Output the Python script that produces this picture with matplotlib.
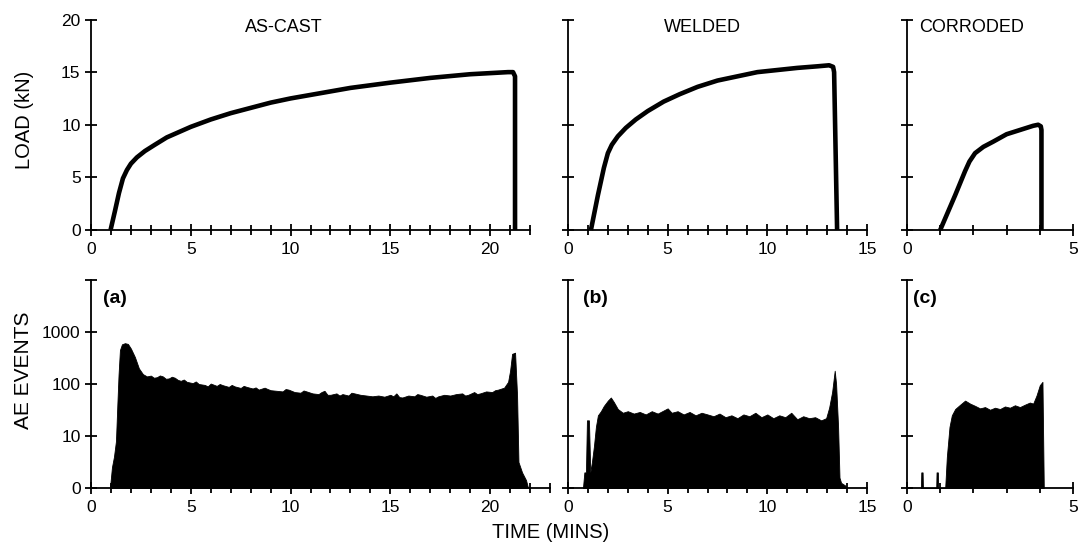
import matplotlib
matplotlib.use('Agg')
import matplotlib.pyplot as plt
from matplotlib.ticker import MultipleLocator, NullLocator, FixedLocator

plt.rcParams['font.family'] = ['Liberation Sans', 'DejaVu Sans']

# load curves (time in mins, load in kN)
cast_t = [0.98, 1.2, 1.4, 1.6, 1.8, 2.0, 2.3, 2.7, 3.2, 3.8, 4.4, 5.0, 6.0, 7.0, 8.0, 9.0,
          10.0, 11.5, 13.0, 15.0, 17.0, 19.0, 20.9, 21.15, 21.25, 21.25]
cast_load = [0.0, 1.8, 3.5, 4.9, 5.7, 6.3, 6.9, 7.5, 8.1, 8.8, 9.3, 9.8, 10.5, 11.1, 11.6, 12.1,
             12.5, 13.0, 13.5, 14.0, 14.45, 14.8, 15.0, 15.0, 14.6, 0.0]

weld_t = [1.15, 1.5, 1.8, 2.0, 2.2, 2.5, 2.9, 3.4, 4.0, 4.8, 5.6, 6.5, 7.5, 8.5, 9.5, 10.5,
          11.5, 12.5, 13.1, 13.3, 13.35, 13.5]
weld_load = [0.0, 3.3, 5.9, 7.3, 8.1, 8.9, 9.7, 10.5, 11.3, 12.2, 12.9, 13.6, 14.2, 14.6, 15.0, 15.2,
             15.4, 15.55, 15.65, 15.5, 15.0, 0.0]

corr_t = [1.0, 1.45, 1.75, 1.88, 2.05, 2.3, 2.6, 3.0, 3.4, 3.8, 3.95, 4.03, 4.05, 4.05]
corr_load = [0.0, 3.3, 5.6, 6.5, 7.3, 7.9, 8.4, 9.1, 9.5, 9.9, 10.0, 9.85, 9.5, 0.0]

# AE events per interval
cast_ae_t = [0.95, 1.05, 1.15, 1.25, 1.32, 1.38, 1.45, 1.55, 1.7, 1.85, 2.0, 2.2, 2.4, 2.6,
             2.8, 3.0, 3.15, 3.3, 3.45, 3.6, 3.75, 3.9, 4.05, 4.2, 4.35, 4.5, 4.65, 4.8, 5.1,
             5.25, 5.4, 5.7, 5.85, 6.0, 6.3, 6.45, 6.6, 6.9, 7.05, 7.2,
             7.5, 7.65, 7.8, 8.1, 8.25, 8.4, 8.7, 8.85, 9.0, 9.3, 9.6, 9.75, 9.9, 10.2, 10.5,
             10.65, 10.8, 11.1, 11.4, 11.55, 11.7, 11.85,
             12.0, 12.3, 12.45, 12.6, 12.9, 13.05, 13.2, 13.5, 13.8, 14.1, 14.4, 14.7, 15.0,
             15.15, 15.3, 15.45, 15.6,
             15.9, 16.2, 16.35, 16.5, 16.8, 17.1, 17.25, 17.4, 17.7, 18.0, 18.3, 18.6, 18.75,
             18.9, 19.2, 19.35, 19.5,
             19.8, 20.1, 20.25, 20.4, 20.7, 20.9, 21.0, 21.1, 21.25, 21.35, 21.42, 21.6, 21.8, 21.9]
cast_ae = [0, 4, 6, 9, 40, 150, 450, 580, 610, 590, 480, 330, 200, 155,
           140, 145, 132, 135, 146, 140, 126, 128, 138, 132, 120, 115, 122, 110, 104,
           112, 100, 96, 90, 102, 92, 100, 95, 88, 96, 90,
           84, 92, 88, 82, 86, 78, 85, 80, 76, 74, 72, 80, 78, 70, 68,
           75, 72, 66, 64, 70, 74, 62,
           62, 66, 60, 64, 60, 68, 66, 62, 60, 58, 60, 57, 62,
           58, 66, 56, 55,
           60, 58, 64, 62, 57, 60, 54, 58, 62, 60, 64, 66, 60,
           62, 70, 64, 66,
           72, 70, 76, 78, 85, 110, 180, 380, 400, 60, 5, 3, 1.5, 0]

weld_ae_t = [0.75, 0.82, 0.9, 0.95, 1.05, 1.12, 1.2, 1.3, 1.4, 1.5, 1.65, 1.8, 2.0, 2.15,
             2.3, 2.5, 2.75, 3.0, 3.3, 3.6, 3.9, 4.2, 4.5, 4.8, 5.0, 5.2, 5.5, 5.8, 6.1,
             6.4, 6.7, 7.0, 7.3, 7.6, 7.9, 8.2, 8.5, 8.8, 9.1, 9.4, 9.7, 10.0, 10.3, 10.6,
             10.9, 11.2, 11.5, 11.8, 12.1, 12.4, 12.7, 12.95, 13.1, 13.25, 13.38, 13.45,
             13.55, 13.62, 13.7, 13.9, 14.0]
weld_ae = [0, 3, 3, 20, 20, 3, 5, 8, 15, 25, 30, 38, 48, 55,
           45, 33, 28, 30, 27, 29, 26, 30, 27, 31, 34, 28, 30, 26, 29,
           25, 28, 26, 24, 27, 23, 25, 22, 26, 24, 28, 23, 26, 22, 25,
           23, 28, 21, 24, 22, 23, 20, 22, 35, 70, 180, 100,
           15, 2, 1, 0.5, 0]

corr_ae_t = [0.42, 0.43, 0.47, 0.48, 0.88, 0.89, 0.93, 0.94, 1.15, 1.2, 1.28, 1.35, 1.45,
             1.6, 1.75, 1.9, 2.05, 2.2, 2.35, 2.5, 2.65, 2.8, 2.95, 3.1, 3.25, 3.4, 3.55,
             3.7, 3.8, 3.9, 4.0, 4.08, 4.12]
corr_ae = [0, 3, 3, 0, 0, 3, 3, 0, 0, 6, 15, 25, 33,
           40, 48, 42, 38, 34, 36, 32, 35, 33, 37, 35, 39, 36, 40,
           44, 42, 60, 95, 110, 0]

titles = ['AS-CAST', 'WELDED', 'CORRODED']
panel_tags = ['(a)', '(b)', '(c)']

W, H = 1082, 548
LW = 1.3


def style_axes(ax, xmax):
    ax.spines['top'].set_visible(False)
    ax.spines['right'].set_visible(False)
    ax.spines['left'].set_linewidth(LW)
    ax.spines['bottom'].set_linewidth(LW)
    ax.set_xlim(0, xmax)
    ax.xaxis.set_major_locator(MultipleLocator(5))
    ax.xaxis.set_minor_locator(MultipleLocator(1))
    ax.tick_params(which='major', direction='inout', length=9, width=LW, labelsize=12.5, pad=3)
    ax.tick_params(which='minor', direction='inout', length=7, width=LW)
    ax.tick_params(axis='x', pad=4)


def main():
    fig = plt.figure(figsize=(W / 100, H / 100), dpi=100)

    # positions in pixels: left, width, xmax
    cols_top = [(91, 439, 22), (568, 299, 15), (907, 166, 5)]
    cols_bot = [(91, 459, 23), (568, 299, 15), (907, 166, 5)]
    load_data = [(cast_t, cast_load), (weld_t, weld_load), (corr_t, corr_load)]
    ae_data = [(cast_ae_t, cast_ae), (weld_ae_t, weld_ae), (corr_ae_t, corr_ae)]
    title_x = [0.44, 0.45, 0.39]
    tag_x = [0.026, 0.05, 0.036]

    for i in range(3):
        left, width, xmax = cols_top[i]
        ax = fig.add_axes([left / W, 1 - 230 / H, width / W, 210.5 / H])
        style_axes(ax, xmax)
        ax.set_ylim(0, 20)
        ax.yaxis.set_major_locator(MultipleLocator(5))
        t, load = load_data[i]
        ax.plot(t, load, color='black', lw=3.3, solid_joinstyle='round', solid_capstyle='butt',
                clip_on=False, zorder=3)
        ax.text(title_x[i], 0.96, titles[i], transform=ax.transAxes, ha='center', va='center',
                fontsize=13)
        ax.set_xticks([0, xmax] if xmax == 5 else list(range(0, xmax + 1, 5)))
        if i > 0:
            ax.set_yticklabels([])

        left, width, xmax = cols_bot[i]
        bx = fig.add_axes([left / W, 1 - 488 / H, width / W, 208 / H])
        style_axes(bx, xmax)
        bx.set_yscale('symlog', base=10, linthresh=10, linscale=0.9)
        bx.set_ylim(0, 10000)
        bx.yaxis.set_major_locator(FixedLocator([0, 10, 100, 1000, 10000]))
        bx.yaxis.set_minor_locator(NullLocator())
        if i == 0:
            bx.set_yticklabels(['0', '10', '100', '1000', ''])
        else:
            bx.set_yticklabels([])
        bx.set_xticks([0, xmax] if xmax == 5 else list(range(0, 16 if xmax == 15 else 21, 5)))
        t, ae = ae_data[i]
        bx.fill_between(t, 0, ae, color='black', lw=0.6, zorder=3)
        bx.text(tag_x[i], 0.913, panel_tags[i], transform=bx.transAxes, ha='left', va='center',
                fontsize=14, fontweight='bold')

    fig.text(24 / W, 1 - 120 / H, 'LOAD (kN)', rotation=90, ha='center', va='center', fontsize=14.5)
    fig.text(24 / W, 1 - 370 / H, 'AE EVENTS', rotation=90, ha='center', va='center', fontsize=15)
    fig.text(551 / W, 1 - 532 / H, 'TIME (MINS)', ha='center', va='center', fontsize=14.5)

    plt.savefig('out.png', dpi=100)


if __name__ == "__main__":
    main()
